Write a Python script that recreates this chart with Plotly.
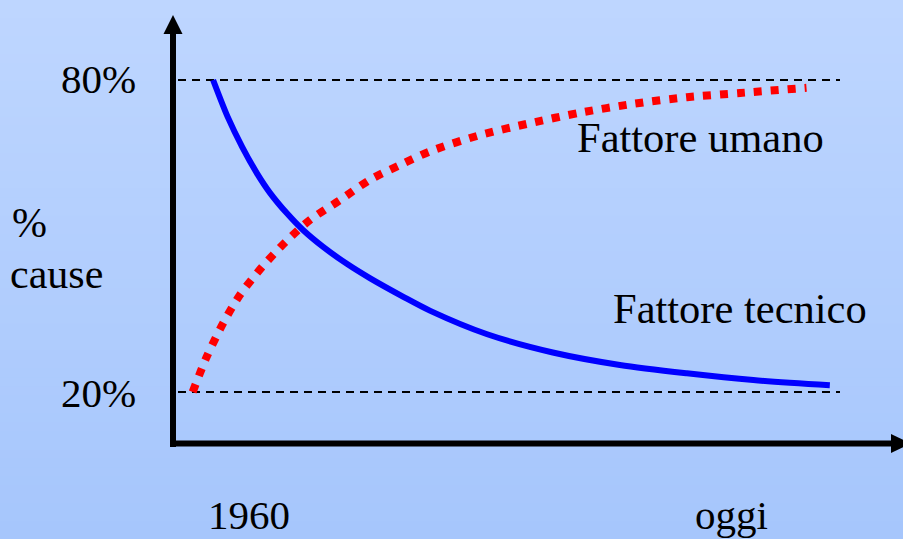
import plotly.graph_objects as go

# Time axis (arbitrary units: 0 = y-axis, 100 = right edge) and % of causes
tecnico_t = [5.5, 7.5, 9.5, 11.5, 13.3, 15.6, 17.8, 20.6, 23.9, 27.0, 31.6, 35.3, 43.1, 52.1, 61.3, 70.5, 79.6, 90.1]
tecnico_pct = [80.0, 72.9, 67.1, 62.1, 58.3, 54.4, 51.2, 47.9, 44.6, 41.9, 38.3, 35.6, 31.1, 27.6, 25.2, 23.6, 22.3, 21.3]

umano_t = [2.7, 4.6, 6.9, 9.2, 12.2, 15.4, 18.8, 22.9, 27.0, 31.2, 35.3, 42.1, 49.0, 55.8, 63.1, 70.5, 77.8, 86.9]
umano_pct = [20.0, 26.7, 33.3, 38.7, 44.0, 48.8, 53.1, 56.9, 60.8, 63.7, 66.3, 69.4, 71.7, 73.7, 75.4, 76.7, 77.5, 78.5]

ref_levels = [80, 20]
ref_labels = ["80%", "20%"]
series_labels = ["Fattore umano", "Fattore tecnico"]
time_labels = ["1960", "oggi"]
axis_title = ["%", "cause"]

W, H = 903, 539
X0, XS = 173.0, 7.29      # pixel of t=0, pixels per t unit
Y80, YS = 80.0, 5.2       # pixel of 80%, pixels per percent

x_range = [(0 - X0) / XS, (W - X0) / XS]
y_range = [80 - (H - Y80) / YS, 80 + Y80 / YS]


def px_x(px):
    return (px - X0) / XS


def px_y(py):
    return 80 - (py - Y80) / YS


fig = go.Figure()

# dashed reference lines
for lvl in ref_levels:
    fig.add_trace(go.Scatter(
        x=[px_x(178), px_x(840)], y=[lvl, lvl], mode="lines",
        line=dict(color="black", width=2, dash="8px,6px"),
        hoverinfo="skip", showlegend=False))

fig.add_trace(go.Scatter(
    x=tecnico_t, y=tecnico_pct, mode="lines", name=series_labels[1],
    line=dict(color="#0000ff", width=6, shape="spline", smoothing=0.8),
    showlegend=False))

fig.add_trace(go.Scatter(
    x=umano_t, y=umano_pct, mode="lines", name=series_labels[0],
    line=dict(color="#ff0000", width=8, dash="8px,9px", shape="spline", smoothing=0.8),
    showlegend=False))

shapes = []
# vertical gradient background
top_c = (190, 214, 255)
bot_c = (166, 198, 252)
n = 60
for i in range(n):
    f = i / (n - 1)
    c = tuple(round(top_c[k] + (bot_c[k] - top_c[k]) * f) for k in range(3))
    shapes.append(dict(type="rect", xref="paper", yref="paper",
                       x0=0, x1=1, y0=1 - (i + 1) / n - 0.002, y1=1 - i / n,
                       fillcolor="rgb(%d,%d,%d)" % c, line=dict(width=0), layer="below"))

# axes with arrowheads
shapes.append(dict(type="line", x0=0, x1=0, y0=px_y(447), y1=px_y(34),
                   line=dict(color="black", width=6)))
shapes.append(dict(type="path",
                   path="M %f,%f L %f,%f L %f,%f Z" % (px_x(163.5), px_y(34), px_x(182.5), px_y(34), 0, px_y(15)),
                   fillcolor="black", line=dict(width=0)))
shapes.append(dict(type="line", x0=px_x(170), x1=px_x(892), y0=px_y(443.5), y1=px_y(443.5),
                   line=dict(color="black", width=6)))
shapes.append(dict(type="path",
                   path="M %f,%f L %f,%f L %f,%f Z" % (px_x(891), px_y(434), px_x(891), px_y(453), px_x(911), px_y(443.5)),
                   fillcolor="black", line=dict(width=0)))

FAMILY = "Liberation Serif, Times New Roman, serif"


def ann(text, px, py, xanchor, size=41):
    return dict(text=text, xref="paper", yref="paper", x=px / W, y=1 - py / H,
                xanchor=xanchor, yanchor="middle", showarrow=False,
                font=dict(family=FAMILY, size=size, color="black"))


annotations = [
    ann(ref_labels[0], 138, 79, "right"),
    ann(ref_labels[1], 138, 393, "right"),
    ann(axis_title[0], 10, 223, "left", 42),
    ann(axis_title[1], 8, 274, "left", 42),
    ann(series_labels[0], 575, 137, "left", 42.5),
    ann(series_labels[1], 611, 308, "left", 42.5),
    ann(time_labels[0], 206, 515, "left"),
    ann(time_labels[1], 693, 515, "left"),
]

fig.update_layout(
    width=W, height=H, margin=dict(l=0, r=0, t=0, b=0),
    paper_bgcolor="rgb(178,206,253)", plot_bgcolor="rgba(0,0,0,0)",
    xaxis=dict(range=x_range, visible=False, fixedrange=True),
    yaxis=dict(range=y_range, visible=False, fixedrange=True),
    shapes=shapes, annotations=annotations, showlegend=False,
)

fig.write_html("out.html", config={"displayModeBar": False})
